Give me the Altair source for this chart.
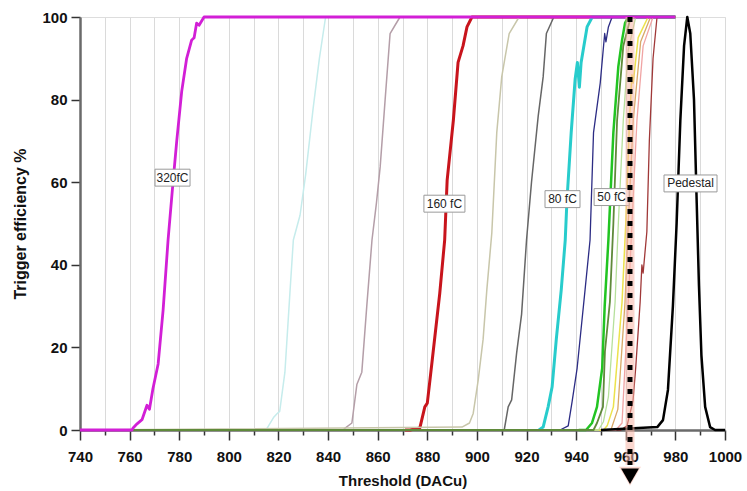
import altair as alt
import pandas as pd

# ---------------- data ----------------
x_320 = [740, 761, 761.4, 763, 765, 767, 768, 769.4, 771.5, 773.5, 775.5, 777.5, 779, 781, 783, 785, 786, 787, 788, 790, 980]
y_320 = [0, 0, 0.5, 1.5, 2.5, 6, 5, 10, 16, 29, 46, 60, 70, 82, 90, 94.4, 95, 98.5, 98, 100, 100]

x_palecyan = [740, 815, 816, 818, 819.5, 820.5, 822.6, 824.7, 826, 828.7, 831, 834, 836.5, 839, 980]
y_palecyan = [0, 0, 1, 3, 4, 4.5, 14, 34, 46, 52, 62, 78, 90, 100, 100]

x_rosy = [740, 846, 847, 849.6, 851.6, 853.6, 855.6, 857.7, 859.5, 861, 863, 865, 867, 869, 980]
y_rosy = [0, 0, 0.5, 1.7, 11, 14, 30, 46, 55, 63.7, 80, 96, 98, 100, 100]

x_160 = [871, 873, 877, 879, 880, 882, 885, 887, 888, 890.5, 892.4, 894.4, 896, 898, 980]
y_160 = [0, 0, 0.5, 5.6, 6.5, 17, 33, 46, 60.5, 75, 89, 93, 97.6, 100, 100]

x_khaki = [740, 894, 897, 898.5, 900.5, 902.5, 904, 906, 908, 910, 913, 917, 980]
y_khaki = [0, 0.7, 1.7, 4, 12, 22, 34, 47.7, 72, 85.5, 96, 100, 100]

x_dgrey = [740, 911, 912.6, 914, 916, 918, 920, 922, 924.7, 926.7, 928, 931, 980]
y_dgrey = [0, 0, 5.6, 7.3, 18.6, 28, 46, 60, 76, 85.5, 96, 100, 100]

x_80 = [925, 926.7, 928.7, 930.3, 932, 934, 935.6, 936.3, 938, 939.6, 940.5, 941.3, 942, 944.4, 946.5, 980]
y_80 = [0, 0.7, 5.6, 10.4, 22, 34, 46, 55.7, 72, 85, 89, 83, 89, 97.6, 100, 100]

x_navy = [740, 933.5, 936.8, 938.4, 940.4, 943.6, 945.6, 947, 949.7, 951.5, 952, 953, 954.5, 980]
y_navy = [0, 0, 1, 7, 15, 34, 46, 72, 84, 96, 94, 97.6, 100, 100]

x_greygreen = [740, 947, 948.4, 950.8, 951.6, 953.6, 955, 956.5, 959, 962, 980]
y_greygreen = [0, 0, 1.7, 5.6, 19, 31, 50, 75, 93, 100, 100]

x_lightgreen = [740, 949, 951, 953, 955.7, 957, 959, 961, 964, 980]
y_lightgreen = [0, 0, 2, 8, 31, 50, 75, 92, 100, 100]

x_yellow = [740, 951, 952.5, 955, 958.5, 960, 961.5, 962.5, 963, 965, 969, 980]
y_yellow = [0, 0, 1, 5.6, 31, 50, 75, 86, 84, 95, 100, 100]

x_tan = [740, 954, 956.8, 959.7, 961, 963, 966, 970, 980]
y_tan = [0, 0, 5, 31, 50, 75, 94, 100, 100]

x_pink = [740, 956, 958.5, 961, 962.5, 964.5, 967, 971, 980]
y_pink = [0, 0, 1.7, 31, 50, 75, 93, 100, 100]

x_darkred = [740, 958, 960.5, 962.9, 964, 965.8, 966.5, 967, 968.5, 969.5, 971, 972.6, 980]
y_darkred = [0, 0, 1, 7, 15, 31, 40, 38, 48, 70, 90, 100, 100]

x_50 = [941, 944, 946.4, 948.4, 950.5, 951.5, 953, 955, 957, 958.5, 959.7, 961, 980]
y_50 = [0, 0, 1.7, 5.6, 15, 30, 46, 72, 88, 94.4, 98.5, 100, 100]

x_ped = [950, 972.7, 975, 977, 979, 980.5, 982, 983.5, 984.8, 986, 987.5, 988.6, 989.5, 990.5, 992, 994, 996, 1000]
y_ped = [0, 0.7, 2.4, 9.7, 30, 50, 75, 93, 100, 96, 80, 55, 35, 18, 5.6, 0.7, 0, 0]

label_text = ["320fC", "160 fC", "80 fC", "50 fC", "Pedestal"]
label_x = [777.3, 886.9, 934.5, 954.3, 986.1]
label_y = [61.1, 54.8, 55.9, 56.4, 59.7]

marker_x = [961.7]
marker_top = [100]
marker_bottom = [-8.5]
marker_tip = [-11.2]

x_ticks = list(range(740, 1001, 10))
y_ticks = [0, 20, 40, 60, 80, 100]

# ---------------- build tables ----------------
series = {
    "160": (x_160, y_160),
    "80": (x_80, y_80),
    "50": (x_50, y_50),
    "palecyan": (x_palecyan, y_palecyan),
    "rosy": (x_rosy, y_rosy),
    "khaki": (x_khaki, y_khaki),
    "dgrey": (x_dgrey, y_dgrey),
    "navy": (x_navy, y_navy),
    "darkred": (x_darkred, y_darkred),
    "pink": (x_pink, y_pink),
    "tan": (x_tan, y_tan),
    "yellow": (x_yellow, y_yellow),
    "lightgreen": (x_lightgreen, y_lightgreen),
    "greygreen": (x_greygreen, y_greygreen),
    "ped": (x_ped, y_ped),
    "320": (x_320, y_320),
}
rows = []
for name, (xs, ys) in series.items():
    for i, (a, b) in enumerate(zip(xs, ys)):
        rows.append({"series": name, "x": a, "y": b, "i": i})
df = pd.DataFrame(rows)

styles = {
    "palecyan": ("#c6ecec", 1.5),
    "rosy": ("#b49ea8", 1.5),
    "160": ("#c8141c", 3),
    "khaki": ("#c8c6aa", 1.5),
    "dgrey": ("#666666", 1.5),
    "80": ("#28cccc", 3),
    "navy": ("#2c2c84", 1.3),
    "darkred": ("#a03838", 1.3),
    "pink": ("#f0a4a4", 1.3),
    "tan": ("#d8a868", 1.3),
    "yellow": ("#ece24c", 1.5),
    "lightgreen": ("#b6e09c", 1.3),
    "50": ("#22c422", 2.5),
    "greygreen": ("#5f8a3a", 1.8),
    "ped": ("#000000", 2.5),
    "320": ("#d21fd6", 2.8),
}

labels = pd.DataFrame({"label": label_text, "x": label_x, "y": label_y})
marker = pd.DataFrame({"x": marker_x, "y": marker_top, "y2": marker_bottom, "tip": marker_tip})

FONT = "Liberation Sans"

xscale = alt.Scale(domain=[740, 1000], nice=False, zero=False)
yscale = alt.Scale(domain=[0, 100], nice=False)

xaxis = alt.Axis(
    values=x_ticks,
    title="Threshold (DACu)",
    labelExpr="datum.value % 20 === 0 ? format(datum.value, 'd') : ''",
    tickSize={"condition": {"test": "datum.value % 20 === 0", "value": 10}, "value": 5},
    grid=True, gridColor="#dadada", gridWidth=1,
    domainColor="#6a6a6a", domainWidth=2.5,
    tickColor="#333333", tickWidth=1.5,
    labelFont=FONT, labelFontSize=15, labelFontWeight="bold", labelColor="#111111",
    labelPadding=9, labelFlush=False, labelOverlap=False,
    titleFont=FONT, titleFontSize=15, titleFontWeight="bold", titleColor="#111111",
    titlePadding=9,
)
yaxis = alt.Axis(
    values=y_ticks,
    title="Trigger efficiency %",
    grid=False,
    domainColor="#6a6a6a", domainWidth=2.5,
    tickColor="#333333", tickWidth=1.5, tickSize=9,
    labelFont=FONT, labelFontSize=15, labelFontWeight="bold", labelColor="#111111",
    labelPadding=4,
    titleFont=FONT, titleFontSize=16, titleFontWeight="bold", titleColor="#111111",
    titlePadding=13,
)

X = alt.X("x:Q", scale=xscale, axis=xaxis)
Y = alt.Y("y:Q", scale=yscale, axis=yaxis)

layers = []
base = alt.Chart(df)
for name in series:
    color, width = styles[name]
    layers.append(
        base.transform_filter(alt.datum.series == name)
        .mark_line(color=color, strokeWidth=width, strokeJoin="round")
        .encode(x=X, y=Y, order="i:Q")
    )

lab = alt.Chart(labels)
boxes = lab.transform_calculate(
    x1="datum.x - (length(datum.label) * 6 + 5) / 2 / 2.48",
    x2="datum.x + (length(datum.label) * 6 + 5) / 2 / 2.48",
    y1="datum.y - 2.05",
    y2="datum.y + 2.05",
).mark_rect(fill="white", stroke="#9a9a9a", strokeWidth=1).encode(
    x=alt.X("x1:Q", scale=xscale, axis=xaxis), x2="x2:Q",
    y=alt.Y("y1:Q", scale=yscale, axis=yaxis), y2="y2:Q",
)
texts = lab.mark_text(font=FONT, fontSize=12, color="#222222", baseline="middle", align="center").encode(
    x=X, y=Y, text="label:N"
)

mk = alt.Chart(marker)
halo = mk.mark_rule(color="#f6b4a6", strokeWidth=9, opacity=0.55).encode(x=X, y=Y, y2="y2:Q")
dash = mk.mark_rule(color="black", strokeWidth=5, strokeDash=[5, 7], strokeCap="butt").encode(x=X, y=Y, y2="y2:Q")
tri_halo = mk.mark_point(shape="triangle-down", filled=True, color="#f6b4a6", opacity=0.55, size=480).encode(
    x=X, y=alt.Y("tip:Q", scale=yscale, axis=yaxis)
)
tri = mk.mark_point(shape="triangle-down", filled=True, color="black", opacity=1, size=320).encode(
    x=X, y=alt.Y("tip:Q", scale=yscale, axis=yaxis)
)

chart = alt.layer(*layers, boxes, texts, halo, dash, tri_halo, tri).properties(
    width=645, height=413,
    autosize=alt.AutoSizeParams(type="none"),
    padding={"left": 80, "top": 17, "right": 22, "bottom": 61},
).configure_view(stroke=None).configure(background="white")

chart.save("out.html", embed_options={"renderer": "svg", "actions": False})
